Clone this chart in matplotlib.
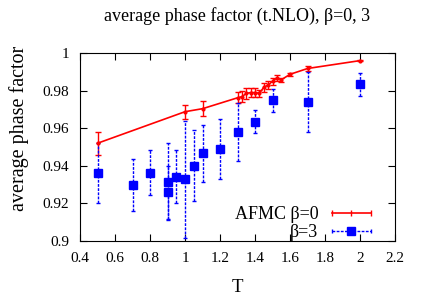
import matplotlib
matplotlib.use('Agg')
from matplotlib import pyplot as plt
from matplotlib.lines import Line2D
from matplotlib.legend_handler import HandlerLine2D

# AFMC beta=0
t0 = [0.5, 1.0, 1.1, 1.3, 1.325, 1.35, 1.375, 1.4, 1.425, 1.45, 1.475, 1.5, 1.525, 1.55, 1.6, 1.7, 2.0]
p0 = [0.952, 0.9688, 0.9704, 0.9762, 0.9768, 0.9785, 0.9790, 0.9790, 0.9786, 0.9818, 0.9830, 0.9850,
      0.9868, 0.9858, 0.9887, 0.9918, 0.9960]
e0 = [0.006, 0.0037, 0.004, 0.003, 0.003, 0.003, 0.0025, 0.0025, 0.002, 0.0025, 0.002, 0.002,
      0.0015, 0.001, 0.0008, 0.0014, 0.0003]

# beta=3
t3 = [0.5, 0.7, 0.8, 0.9, 0.9, 0.95, 1.0, 1.05, 1.1, 1.2, 1.3, 1.4, 1.5, 1.7, 2.0]
p3 = [0.9363, 0.9298, 0.9362, 0.9316, 0.9259, 0.9342, 0.9328, 0.9401, 0.9466, 0.9491, 0.9581,
      0.9635, 0.9748, 0.9739, 0.9834]
e3 = [0.016, 0.014, 0.012, 0.0207, 0.014, 0.014, 0.031, 0.019, 0.015, 0.016, 0.0155, 0.006,
      0.006, 0.016, 0.006]

plt.rcParams['font.family'] = ['Liberation Serif', 'DejaVu Serif']
plt.rcParams['font.size'] = 11

fig = plt.figure(figsize=(4.28, 3.0), dpi=100)
ax = fig.add_axes([0.187, 0.197, 0.736, 0.626])

ax.errorbar(t0, p0, yerr=e0, color='red', lw=1.2, marker='o', markersize=2,
            capsize=2.5, capthick=1, elinewidth=1)
eb = ax.errorbar(t3, p3, yerr=e3, color='blue', ls='none', marker='s', markersize=5.5,
                 capsize=1.5, capthick=1, elinewidth=1)
for c in eb[2]:
    c.set_linestyle((0, (2, 1)))

ax.set_xlim(0.4, 2.2)
ax.set_ylim(0.9, 1.0)
ax.set_xticks([0.4, 0.6, 0.8, 1, 1.2, 1.4, 1.6, 1.8, 2, 2.2])
ax.set_xticklabels(['0.4', '0.6', '0.8', '1', '1.2', '1.4', '1.6', '1.8', '2', '2.2'])
ax.set_yticks([0.9, 0.92, 0.94, 0.96, 0.98, 1])
ax.set_yticklabels(['0.9', '0.92', '0.94', '0.96', '0.98', '1'])
ax.tick_params(direction='in', top=True, right=True, length=5, width=0.8, pad=8)
ax.set_xlabel('T', fontsize=13.5, labelpad=10)
ax.set_ylabel('average phase factor', fontsize=14.5)
ax.yaxis.set_label_coords(-0.162, 0.6)
ax.set_title('average phase factor (t.NLO), β=0, 3', fontsize=13, pad=23)

# gnuplot-style legend samples
h_red = Line2D([], [], color='red', lw=1.2, marker='|', markersize=4, markeredgewidth=1)
h_blue_line = Line2D([], [], color='blue', lw=1, ls=(0, (2, 1)), marker='|', markersize=3,
                     markeredgewidth=1)
h_blue_sq = Line2D([], [], color='blue', ls='none', marker='s', markersize=5.5)
ax.legend([h_red, (h_blue_line, h_blue_sq)], ['AFMC β=0', 'β=3'], numpoints=3,
          handler_map={h_blue_sq: HandlerLine2D(numpoints=1)},
          loc='lower right', bbox_to_anchor=(0.94, 0.0), frameon=False, markerfirst=False,
          fontsize=13, handlelength=2.75, handletextpad=0.45, labelspacing=0.05,
          borderpad=0, borderaxespad=0)

fig.savefig('out.png', dpi=100)
